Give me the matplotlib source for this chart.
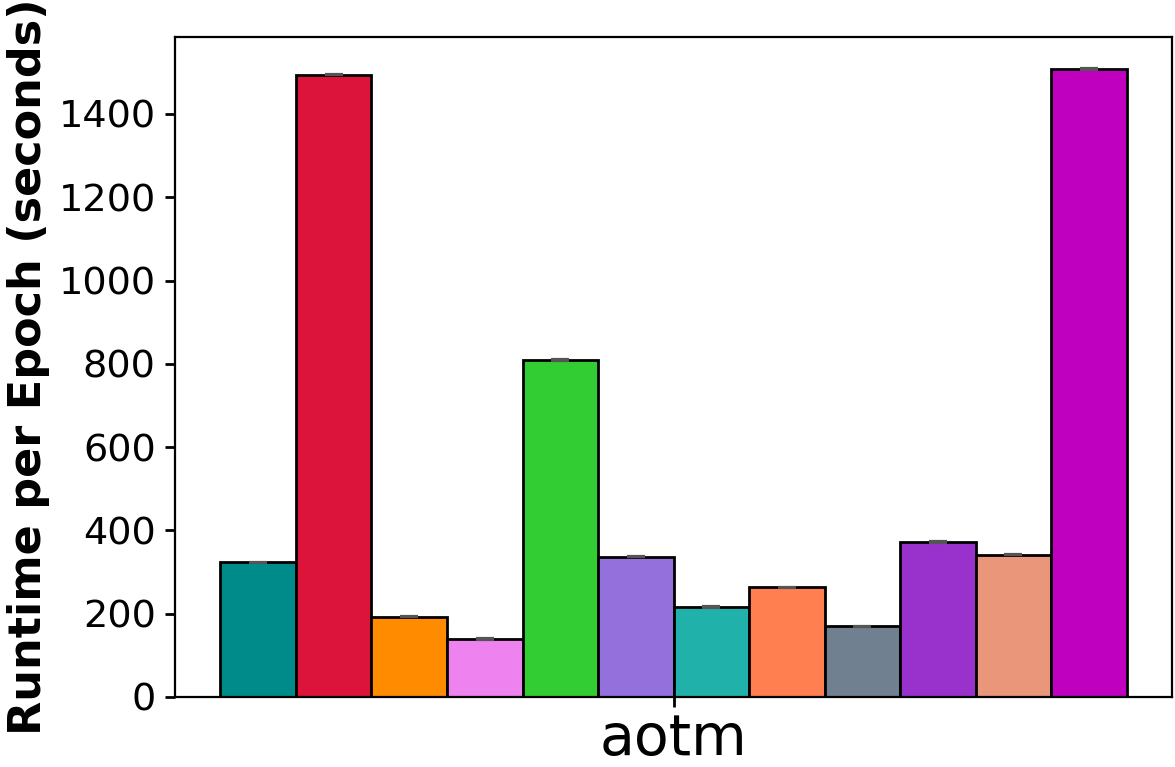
import numpy as np
import matplotlib
matplotlib.use("Agg")
import matplotlib.pyplot as plt

categories = ["aotm"]
methods = ["m1", "m2", "m3", "m4", "m5", "m6", "m7", "m8", "m9", "m10", "m11", "m12"]
values = [323, 1494, 193, 139, 809, 337, 216, 263, 170, 372, 342, 1508]
errors = [1.5, 1.5, 1.5, 1.5, 1.5, 1.5, 1.5, 1.5, 1.5, 1.5, 1.5, 1.5]
colors = ["#008B8B", "#DC143C", "#FF8C00", "#EE82EE", "#32CD32", "#9370DB",
          "#20B2AA", "#FF7F50", "#708090", "#9932CC", "#E9967A", "#BF00BF"]

fig = plt.figure(figsize=(11.75, 7.67), dpi=100)
ax = fig.add_axes([0.149, 0.0913, 0.8485, 0.8605])

n = len(values)
width = 0.9 / n
x0 = np.arange(len(categories))
for i, (v, e, c) in enumerate(zip(values, errors, colors)):
    pos = x0 - 0.45 + width * (i + 0.5)
    ax.bar(pos, [v], width=width, color=c, edgecolor="black", linewidth=2,
           yerr=[e], ecolor="#555555", capsize=6.5, error_kw=dict(elinewidth=1.2, capthick=1.6))

ax.set_xticks(x0)
ax.set_xticklabels(categories, fontsize=41)
ax.tick_params(axis="y", labelsize=27.5, width=2, length=7, pad=7)
ax.tick_params(axis="x", width=2, length=7, pad=4)
ax.set_ylabel("Runtime per Epoch (seconds)", fontsize=32, fontweight="bold", labelpad=6)
for s in ax.spines.values():
    s.set_linewidth(1.6)

fig.savefig("out.png", dpi=100)
